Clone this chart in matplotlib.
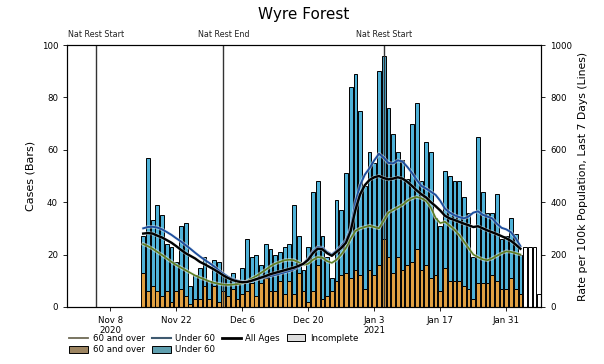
import matplotlib
matplotlib.use("Agg")
import matplotlib.pyplot as plt
import matplotlib.dates as mdates
import matplotlib.patheffects as pe
from matplotlib.patches import Patch
from matplotlib.lines import Line2D
import numpy as np
import pandas as pd

# ---- data ----
first_day = "2020-11-15"
totals = [27, 57, 33, 39, 35, 24, 23, 17, 31, 32, 8, 12, 15, 19, 10, 18, 17, 12, 11, 13,
          9, 15, 26, 19, 20, 16, 24, 22, 20, 21, 23, 24, 39, 27, 14, 23, 44, 48, 27, 19,
          11, 41, 37, 51, 84, 89, 75, 46, 59, 55, 90, 96, 76, 66, 59, 56, 49, 70, 78, 48,
          63, 59, 34, 31, 52, 50, 48, 48, 42, 36, 19, 65, 44, 36, 36, 43, 26, 27, 34, 28, 20]
over60 = [13, 6, 8, 6, 4, 6, 2, 6, 7, 4, 1, 3, 3, 8, 3, 8, 2, 6, 4, 7,
          3, 5, 6, 9, 4, 9, 11, 6, 6, 10, 5, 10, 5, 13, 6, 2, 6, 16, 3, 4,
          6, 10, 12, 13, 11, 14, 12, 7, 14, 12, 16, 26, 19, 13, 19, 14, 16, 17, 22, 14,
          16, 11, 12, 6, 15, 10, 10, 10, 8, 7, 3, 9, 9, 9, 12, 10, 7, 7, 11, 7, 5]
incomplete_start = "2021-02-04"
incomplete = [23, 23, 23, 5]

rate_all = [280, 282, 280, 272, 265, 255, 245, 232, 218, 205, 195, 185, 172, 163, 153, 143, 132, 120, 110, 102,
            97, 94, 95, 100, 106, 112, 118, 125, 130, 135, 140, 145, 150, 157, 165, 180, 205, 222, 220, 205,
            195, 210, 225, 245, 290, 370, 430, 465, 485, 495, 500, 492, 487, 490, 495, 490, 478, 462, 445, 430,
            418, 400, 385, 368, 348, 338, 332, 325, 318, 312, 305, 308, 300, 292, 285, 278, 270, 262, 252, 238, 222]
rate_u60 = [300, 305, 306, 303, 296, 286, 275, 262, 250, 236, 222, 207, 193, 180, 168, 155, 140, 127, 115, 106,
            100, 96, 96, 99, 104, 109, 114, 118, 122, 127, 132, 137, 144, 153, 166, 185, 212, 228, 226, 210,
            200, 215, 232, 255, 300, 400, 465, 505, 530, 560, 585, 570, 550, 548, 560, 555, 535, 512, 485, 462,
            452, 440, 428, 405, 375, 360, 350, 343, 338, 345, 360, 365, 352, 345, 338, 318, 302, 296, 285, 262, 232]
rate_o60 = [240, 232, 222, 210, 198, 185, 172, 160, 150, 140, 130, 120, 112, 105, 98, 92, 88, 85, 84, 85,
            87, 90, 98, 108, 118, 130, 142, 155, 165, 172, 178, 180, 178, 170, 160, 165, 180, 190, 188, 175,
            168, 180, 200, 225, 260, 290, 300, 305, 310, 305, 300, 330, 360, 370, 380, 390, 405, 415, 420, 415,
            405, 380, 340, 320, 325, 310, 295, 275, 250, 225, 200, 190, 182, 178, 185, 195, 205, 212, 210, 205, 200]

events = ["2020-11-05", "2020-12-02", "2021-01-05"]
event_labels = ["Nat Rest Start", "Nat Rest End", "Nat Rest Start"]
tick_dates = ["2020-11-08", "2020-11-22", "2020-12-06", "2020-12-20", "2021-01-03", "2021-01-17", "2021-01-31"]
tick_labels = ["Nov 8\n2020", "Nov 22", "Dec 6", "Dec 20", "Jan 3\n2021", "Jan 17", "Jan 31"]

# ---- derived ----
dates = pd.date_range(first_day, periods=len(totals), freq="D")
inc_dates = pd.date_range(incomplete_start, periods=len(incomplete), freq="D")
tot = np.array(totals)
o60 = np.array(over60)
u60 = tot - o60

C_ORANGE = "#E0A042"
C_BLUE = "#4FB2D8"
C_OLIVE = "#5E7F22"
C_LBLUE = "#1F4F9E"

fig = plt.figure(figsize=(6.04, 3.64), dpi=100)
ax = fig.add_axes([0.111, 0.157, 0.785, 0.719])
ax2 = ax.twinx()

w = 0.8
ax.bar(dates, o60, width=w, color=C_ORANGE, edgecolor="black", linewidth=0.7, zorder=2)
ax.bar(dates, u60, bottom=o60, width=w, color=C_BLUE, edgecolor="black", linewidth=0.7, zorder=2)
ax.bar(inc_dates, incomplete, width=w, color="white", edgecolor="black", linewidth=0.7, zorder=2)

for ev, lab in zip(events, event_labels):
    ax.axvline(pd.Timestamp(ev), color="#333333", lw=1.0, zorder=3)
    ax.text(pd.Timestamp(ev), 102.3, lab, ha="center", va="bottom", fontsize=5.8, color="#222222")

stroke = [pe.Stroke(linewidth=2.6, foreground="#E8F0F4", alpha=0.55), pe.Normal()]
ax2.plot(dates, rate_o60, color=C_OLIVE, lw=1.2, path_effects=stroke, zorder=4)
ax2.plot(dates, rate_u60, color=C_LBLUE, lw=1.4, path_effects=stroke, zorder=4)
ax2.plot(dates, rate_all, color="black", lw=1.7, path_effects=stroke, zorder=5)

x0 = pd.Timestamp("2020-11-08")
ax.set_xlim(mdates.date2num(x0) - 9.15, mdates.date2num(x0) + 91.4)
ax.set_ylim(0, 100)
ax2.set_ylim(0, 1000)
ax.set_yticks([0, 20, 40, 60, 80, 100])
ax2.set_yticks([0, 200, 400, 600, 800, 1000])
ax.set_xticks([pd.Timestamp(t) for t in tick_dates])
ax.set_xticklabels(tick_labels)
ax.tick_params(labelsize=6.2, length=3, width=0.6)
ax2.tick_params(labelsize=6.2, length=3, width=0.6)
ax.set_ylabel("Cases (Bars)", fontsize=8)
ax2.set_ylabel("Rate per 100k Population, Last 7 Days (Lines)", fontsize=7.8)
ax.set_title("Wyre Forest", fontsize=11, pad=19)

handles = [
    Line2D([], [], color="#6E6A55", lw=1.3),
    Patch(facecolor="#9C8460", edgecolor="black", linewidth=0.7),
    Line2D([], [], color="#3F5A70", lw=1.5),
    Patch(facecolor="#5F9FAF", edgecolor="black", linewidth=0.7),
    Line2D([], [], color="black", lw=2.0),
    Patch(facecolor="#DDDDDD", edgecolor="black", linewidth=0.7),
]
labels = ["60 and over", "60 and over", "Under 60", "Under 60", "All Ages", "Incomplete"]
fig.legend(handles, labels, ncol=4, loc="upper left", bbox_to_anchor=(0.115, 0.083),
           frameon=False, fontsize=6.2, handlelength=2.2, handleheight=0.9,
           columnspacing=0.8, handletextpad=0.5, labelspacing=0.3, borderaxespad=0,
           borderpad=0)

fig.savefig("out.png", dpi=100)
